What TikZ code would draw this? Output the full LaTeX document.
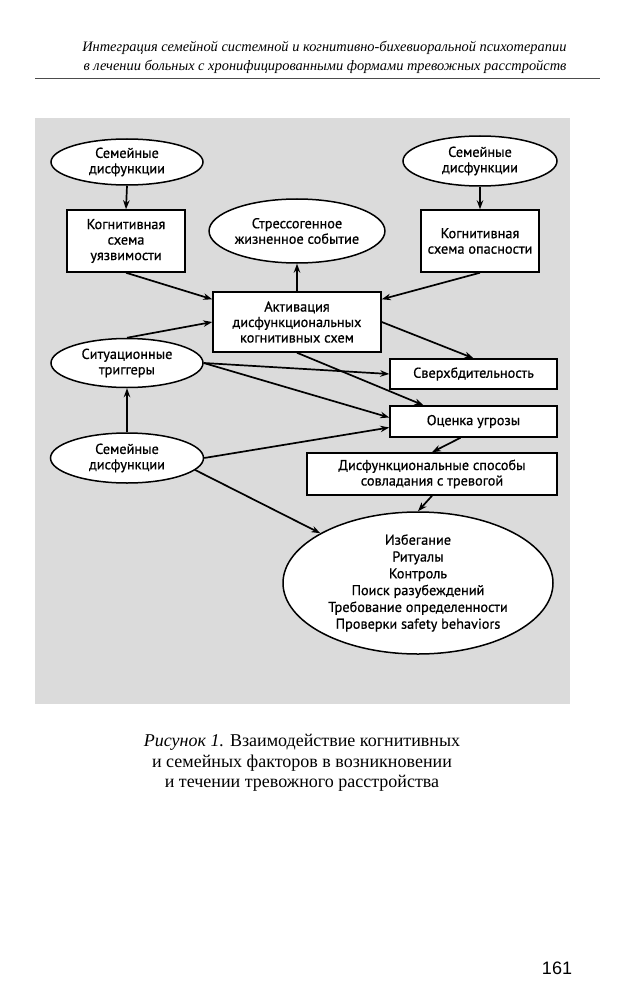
\documentclass[tikz,border=0pt]{standalone}
\usepackage{fontspec}
\setmainfont{Liberation Serif}
\newfontfamily\diagfont[FakeBold=0.7]{PT Sans}
\newfontfamily\numfont{Liberation Sans}
\usetikzlibrary{shapes.geometric,arrows.meta}

\tikzset{
  oval/.style={ellipse, draw, line width=1.5pt, fill=white, inner sep=0pt,
    align=center, font=\diagfont\fontsize{14.3}{15.5}\selectfont},
  block/.style={rectangle, draw, line width=1.5pt, fill=white, inner sep=0pt,
    align=center, font=\diagfont\fontsize{14.3}{15.5}\selectfont},
  link/.style={->, line width=1.7pt}
}

\begin{document}
\begin{tikzpicture}[x=1pt, y=-1pt, >={Stealth[length=9pt,width=6.5pt]}]
  \useasboundingbox (0,0) rectangle (631,1000);
  % running head
  \node[anchor=east, align=right, font=\itshape\fontsize{14.4}{19}\selectfont]
    (head) at (570,57) {Интеграция семейной системной и когнитивно-бихевиоральной психотерапии\\
    в лечении больных с хронифицированными формами тревожных расстройств};
  \draw [line width=0.6pt, black!70] (35,78) -- (600,78);
  % grey field of the figure
  \fill [black!14] (35,118) rectangle (570,704);

  % nodes
  \node[oval, minimum width=152, minimum height=46] (famA) at (127,162)
    {Семейные\\дисфункции};
  \node[block, minimum width=118, minimum height=62] (schemaV) at (126,241)
    {Когнитивная\\схема\\уязвимости};
  \node[oval, minimum width=154, minimum height=64] (stress) at (297,231)
    {Стрессогенное\\жизненное событие};
  \node[oval, minimum width=154, minimum height=50] (famB) at (480,161)
    {Семейные\\дисфункции};
  \node[block, minimum width=118, minimum height=62] (schemaD) at (480,241)
    {Когнитивная\\схема опасности};
  \node[block, minimum width=168, minimum height=60] (activ) at (297,322)
    {Активация\\дисфункциональных\\когнитивных схем};
  \node[oval, minimum width=152, minimum height=49] (trig) at (127,363)
    {Ситуационные\\триггеры};
  \node[oval, minimum width=153, minimum height=50] (famC) at (127,458)
    {Семейные\\дисфункции};
  \node[block, minimum width=167, minimum height=30] (hyper) at (473.5,374)
    {Сверхбдительность};
  \node[block, minimum width=167, minimum height=31] (threat) at (473.5,421.5)
    {Оценка угрозы};
  \node[block, minimum width=250, minimum height=42] (coping) at (432,474)
    {Дисфункциональные способы\\совладания с тревогой};
  \node[oval, minimum width=270, minimum height=142,
    font=\diagfont\fontsize{14.3}{16.8}\selectfont] (behav) at (418,583)
    {Избегание\\Ритуалы\\Контроль\\Поиск разубеждений\\Требование определенности\\Проверки safety behaviors};

  % connectors
  \draw [link] (famA.south) -- (schemaV.north);
  \draw [link] (famB.south) -- (schemaD.north);
  \draw [link] (schemaV.south) -- (activ.165);
  \draw [link] (schemaD.south) -- (activ.15);
  \draw [link] (activ.north) -- (stress.south);
  \draw [link] (trig.north) -- (activ.west);
  \draw [link] (activ.east) -- (hyper.north);
  \draw [link] (activ.south) -- ([xshift=-50pt]threat.north);
  \draw [link] (trig.east) -- (hyper.west);
  \draw [link] (trig.east) -- ([yshift=4pt]threat.west);
  \draw [link] (famC.east) -- ([yshift=-6pt]threat.west);
  \draw [link] (famC.-10) -- (behav.153);
  \draw [link] (famC.north) -- (trig.south);
  \draw [link] ([xshift=-13pt]threat.south) -- (coping.north);
  \draw [link] (coping.south) -- (behav.north);

  % caption and page number
  \node[align=center, font=\fontsize{18}{20.5}\selectfont] (caption) at (302,763)
    {\textit{Рисунок 1.} Взаимодействие когнитивных\\
     и семейных факторов в возникновении\\
     и течении тревожного расстройства};
  \node[font=\numfont\fontsize{18}{18}\selectfont] (page) at (557,968) {161};
\end{tikzpicture}
\end{document}
